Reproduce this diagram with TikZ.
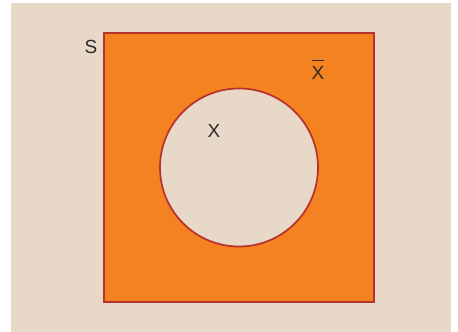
\documentclass[tikz,border=0pt]{standalone}
\usepackage{fontspec}
\setmainfont{Liberation Sans}
\usepackage{xcolor}
\usepackage{tikz}
\usetikzlibrary{positioning}
\definecolor{vnbeige}{HTML}{E8D8C8}
\definecolor{vnorange}{HTML}{F58220}
\definecolor{vnred}{HTML}{B7312E}
\definecolor{vntext}{HTML}{2B2B2B}

\begin{document}
\begin{tikzpicture}[x=1pt,y=-1pt,font=\fontsize{19}{22}\selectfont,
  universe/.style={draw=vnred,fill=vnorange,line width=1.7pt,minimum width=270pt,minimum height=269pt,inner sep=0pt},
  subset/.style={circle,draw=vnred,fill=vnbeige,line width=1.7pt,minimum size=158pt,inner sep=0pt},
  lbl/.style={text=vntext,inner sep=0pt}]
  \useasboundingbox (0,0) rectangle (458,332);
  \fill[white] (0,0) rectangle (458,332);
  \fill[vnbeige] (11,3) rectangle (451,332);
  \node[universe] (s) at (239,167.5) {};
  \node[subset] (x) at (239,167.5) {};
  \node[lbl] (slbl) at (91,47) {S};
  \node[lbl,anchor=base] (xbar) at (318,79) {$\overline{\rule{0pt}{17pt}\mbox{X}}$};
  \node[lbl] (xlbl) at (214,131) {X};
\end{tikzpicture}
\end{document}
